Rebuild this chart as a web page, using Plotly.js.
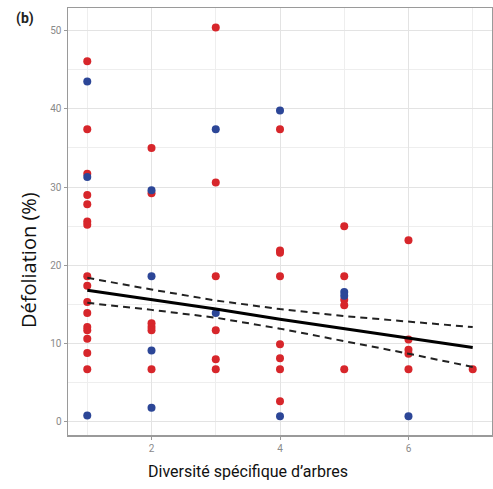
<!DOCTYPE html>
<html>
<head>
<meta charset="utf-8">
<script src="https://cdn.plot.ly/plotly-3.0.1.min.js"></script>
<style>html,body{margin:0;padding:0;background:#fff;}#chart{width:493px;height:489px;}</style>
</head>
<body>
<div id="chart"></div>
<script>
// Red points (diversity, defoliation)
var redX = [1,1,1,1,1,1,1,1,1,1,1,1,1,1,1,1,
            2,2,2,2,2,2,
            3,3,3,3,3,3,
            4,4,4,4,4,4,4,4,
            5,5,5,5,5,
            6,6,6,6,6,
            7];
var redY = [46.1,37.4,31.7,29.0,27.8,25.6,25.2,18.6,17.4,15.3,13.9,12.1,11.7,10.6,8.8,6.7,
            35.0,29.2,12.6,12.1,11.7,6.7,
            50.4,30.6,18.6,11.7,8.0,6.7,
            37.4,21.9,21.6,18.6,9.9,8.1,6.7,2.6,
            25.0,18.6,15.6,14.9,6.7,
            23.2,10.5,9.2,8.7,6.7,
            6.7];
// Blue points
var blueX = [1,1,1, 2,2,2,2, 3,3, 4,4, 5,5, 6];
var blueY = [43.5,31.3,0.8, 29.6,18.6,9.1,1.8, 37.4,13.9, 39.8,0.7, 16.6,16.1, 0.7];
// Regression fit and confidence band
var fitX = [1,2,3,4,5,6,7];
var fitY = [16.8,15.6,14.4,13.1,11.9,10.7,9.5];
var upperY = [18.4,16.9,15.5,14.4,13.5,12.8,12.1];
var lowerY = [15.2,14.3,13.3,11.9,10.3,8.7,7.0];
var xTicks = [2,4,6];
var yTicks = [0,10,20,30,40,50];

var traces = [
  {x: redX, y: redY, type:'scatter', mode:'markers', marker:{color:'#d7262b', size:8}, hoverinfo:'skip'},
  {x: blueX, y: blueY, type:'scatter', mode:'markers', marker:{color:'#2c4697', size:8}, hoverinfo:'skip'},
  {x: fitX, y: upperY, type:'scatter', mode:'lines', line:{color:'#222', width:2, dash:'7px,5px'}},
  {x: fitX, y: lowerY, type:'scatter', mode:'lines', line:{color:'#222', width:2, dash:'7px,5px'}},
  {x: fitX, y: fitY, type:'scatter', mode:'lines', line:{color:'#000', width:3}}
];

var axisCommon = {
  showline:true, mirror:true, linecolor:'#9a9a9a', linewidth:1.5,
  ticks:'outside', ticklen:3, tickcolor:'#9a9a9a', tickwidth:1,
  showgrid:true, gridcolor:'#e3e3e3', gridwidth:1,
  zeroline:false,
  tickfont:{family:'Roboto, sans-serif', size:10, color:'#8a8a8a'}
};

var layout = {
  width:493, height:489,
  margin:{l:68, r:1, t:8, b:54},
  paper_bgcolor:'#fff', plot_bgcolor:'#fff',
  showlegend:false,
  xaxis: Object.assign({}, axisCommon, {
    range:[0.7,7.3], tickvals:xTicks, ticktext:xTicks.map(String),
    minor:{showgrid:true, gridcolor:'#eeeeee', tickvals:[1,3,5,7], ticks:''}
  }),
  yaxis: Object.assign({}, axisCommon, {
    range:[-1.7,52.9], tickvals:yTicks, ticktext:yTicks.map(String),
    minor:{showgrid:true, gridcolor:'#eeeeee', tickvals:[5,15,25,35,45], ticks:''}
  }),
  annotations:[
    {text:'<b>(b)</b>', xref:'paper', yref:'paper', x:0, y:1.0, xanchor:'center', yanchor:'middle',
     xshift:-43, yshift:-10, showarrow:false, font:{family:'Roboto, sans-serif', size:14, color:'#222'}},
    {text:'Diversité spécifique d’arbres', xref:'paper', yref:'paper', x:0, y:0, xanchor:'center', yanchor:'middle',
     xshift:180, yshift:-36, showarrow:false, font:{family:'Roboto, sans-serif', size:16, color:'#111'}},
    {text:'Défoliation (%)', xref:'paper', yref:'paper', x:0, y:0, xanchor:'center', yanchor:'middle', textangle:-90,
     xshift:-40, yshift:175, showarrow:false, font:{family:'Open Sans, sans-serif', size:20, color:'#111'}}
  ]
};

Plotly.newPlot('chart', traces, layout, {displayModeBar:false, staticPlot:true});
</script>
</body>
</html>
